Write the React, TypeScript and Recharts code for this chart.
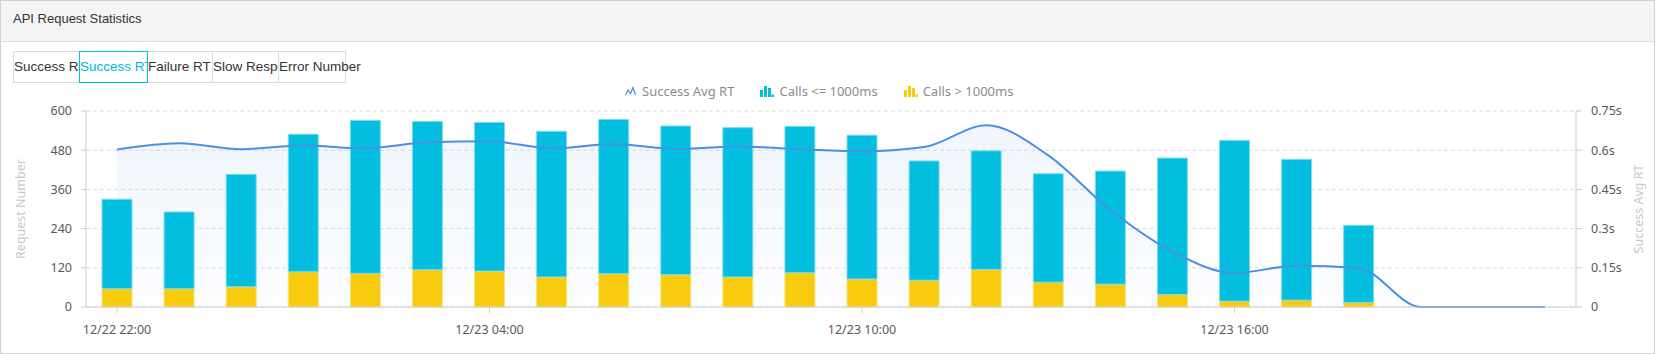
import { ComposedChart, Bar, Line, Area, XAxis, YAxis, CartesianGrid } from 'recharts';

// hourly buckets, 22:00 on 12/22 through 21:00 on 12/23
const times = [
    '12/22 22:00', '12/22 23:00', '12/23 00:00', '12/23 01:00', '12/23 02:00', '12/23 03:00',
    '12/23 04:00', '12/23 05:00', '12/23 06:00', '12/23 07:00', '12/23 08:00', '12/23 09:00',
    '12/23 10:00', '12/23 11:00', '12/23 12:00', '12/23 13:00', '12/23 14:00', '12/23 15:00',
    '12/23 16:00', '12/23 17:00', '12/23 18:00', '12/23 19:00', '12/23 20:00', '12/23 21:00',
];

// calls > 1000ms (yellow, bottom of stack)
const callsSlow = [56, 56, 62, 108, 103, 114, 110, 92, 102, 99, 92, 105, 86, 82, 115, 76, 70, 38, 18, 21, 14];
// calls <= 1000ms (cyan, top of stack)
const callsFast = [274, 235, 344, 421, 468, 454, 455, 446, 472, 455, 457, 448, 440, 365, 363, 332, 346, 418, 492, 431, 236];
// success avg RT in seconds
const avgRt = [
    0.603, 0.627, 0.604, 0.618, 0.607, 0.63, 0.634, 0.607, 0.624, 0.605, 0.614, 0.604,
    0.596, 0.612, 0.695, 0.58, 0.371, 0.212, 0.13, 0.158, 0.149, 0, 0, 0,
];

const leftTicks = [0, 120, 240, 360, 480, 600];
const rightTicks = [0, 0.15, 0.3, 0.45, 0.6, 0.75];

const tabs = ['Success Rate', 'Success RT', 'Failure RT', 'Slow Response', 'Error Number'];
const activeTab = 1;

const CYAN = '#04bedf';
const GOLD = '#f8cb0f';
const LINE = '#4a90e2';
const FONT = '"Noto Sans", "Open Sans", sans-serif';

const data = times.map((time, i) => ({
    time,
    slow: callsSlow[i] ?? null,
    fast: callsFast[i] ?? null,
    rt: avgRt[i],
}));

// tab box edges (left of each, plus right edge of last)
const tabEdges = [13, 79, 147, 212, 278, 345];

function BarIcon({ color }: { color: string }) {
    return (
        <svg width={14} height={12} style={{ display: 'block' }}>
            <rect x={0} y={5} width={3} height={7} fill={color} />
            <rect x={4} y={1} width={3} height={11} fill={color} />
            <rect x={8} y={3} width={3} height={9} fill={color} />
            <rect x={11.5} y={9.5} width={2.5} height={2.5} fill={color} />
        </svg>
    );
}

function LineIcon() {
    return (
        <svg width={11} height={10} style={{ display: 'block' }}>
            <polyline points="0.5,9 3,4 5.5,7.5 8,1.5 10.5,9" fill="none" stroke={LINE} strokeWidth={1.2} />
        </svg>
    );
}

export default function App() {
    const tickStyle = { fill: '#595959', fontSize: 12.5, fontFamily: FONT };

    return (
        <div style={{
            position: 'absolute',
            left: 0,
            top: 0,
            width: 1656,
            height: 354,
            background: '#fff',
            fontFamily: FONT,
        }}>
            {/* card frame */}
            <div style={{
                position: 'absolute', left: 0, top: 0, width: 1655, height: 354,
                border: '1px solid #cfcfcf', boxSizing: 'border-box',
            }} />
            {/* header */}
            <div style={{
                position: 'absolute', left: 1, top: 1, width: 1653, height: 40,
                background: '#f4f4f4', borderBottom: '1px solid #e2e2e2',
            }} />
            <div style={{
                position: 'absolute', left: 13, top: 9, lineHeight: '19px',
                fontSize: 13, color: '#333', fontFamily: '"Liberation Sans", Arial, sans-serif',
            }}>
                API Request Statistics
            </div>

            {/* tabs */}
            {tabs.map((t, i) => {
                const active = i === activeTab;
                const last = i === tabs.length - 1;
                return (
                    <div key={t} style={{
                        position: 'absolute',
                        left: tabEdges[i],
                        top: 51,
                        width: tabEdges[i + 1] - tabEdges[i] + 1,
                        height: 32,
                        boxSizing: 'border-box',
                        border: `1px solid ${active ? '#00c1de' : '#dcdcdc'}`,
                        background: '#fff',
                        zIndex: active ? 2 : 1,
                        overflow: last ? 'visible' : 'hidden',
                        whiteSpace: 'nowrap',
                        lineHeight: '30px',
                        paddingLeft: 0,
                        fontSize: 13.5,
                        fontFamily: '"Liberation Sans", Arial, sans-serif',
                        color: active ? '#00b7dd' : '#333',
                    }}>
                        {t}
                    </div>
                );
            })}

            {/* legend */}
            <div style={{
                position: 'absolute', left: 625, top: 82, height: 18,
                display: 'flex', alignItems: 'center', fontSize: 13, color: '#8c8c8c',
            }}>
                <LineIcon />
                <span style={{ marginLeft: 6, marginRight: 26 }}>Success Avg RT</span>
                <BarIcon color={CYAN} />
                <span style={{ marginLeft: 5, marginRight: 26 }}>Calls &lt;= 1000ms</span>
                <BarIcon color={GOLD} />
                <span style={{ marginLeft: 5 }}>Calls &gt; 1000ms</span>
            </div>

            <div style={{ position: 'absolute', left: 0, top: 95 }}>
                <ComposedChart
                    width={1655}
                    height={258}
                    data={data}
                    margin={{ top: 16, right: 9, bottom: 16, left: 16 }}
                >
                    <defs>
                        <linearGradient id="rtFill" x1="0" y1="0" x2="0" y2="1">
                            <stop offset="0%" stopColor={LINE} stopOpacity={0.14} />
                            <stop offset="100%" stopColor={LINE} stopOpacity={0.03} />
                        </linearGradient>
                    </defs>
                    <CartesianGrid
                        yAxisId="left"
                        vertical={false}
                        stroke="#dedede"
                        strokeDasharray="4 3"
                    />
                    <XAxis
                        dataKey="time"
                        interval={5}
                        height={30}
                        tick={tickStyle}
                        tickSize={6}
                        tickMargin={12}
                        axisLine={{ stroke: '#cccccc' }}
                        tickLine={{ stroke: '#cccccc' }}
                    />
                    <YAxis
                        yAxisId="left"
                        width={70}
                        domain={[0, 600]}
                        ticks={leftTicks}
                        tick={tickStyle}
                        tickSize={5}
                        tickMargin={9}
                        axisLine={{ stroke: '#cccccc' }}
                        tickLine={{ stroke: '#cccccc' }}
                        label={{
                            value: 'Request Number',
                            angle: -90,
                            position: 'center',
                            dx: -30,
                            fill: '#c8c8c8',
                            fontSize: 12.5,
                            fontFamily: FONT,
                        }}
                    />
                    <YAxis
                        yAxisId="right"
                        orientation="right"
                        width={70}
                        domain={[0, 0.75]}
                        ticks={rightTicks}
                        tickFormatter={(v: number) => (v === 0 ? '0' : `${v}s`)}
                        tick={tickStyle}
                        tickSize={6}
                        tickMargin={9}
                        axisLine={{ stroke: '#cccccc' }}
                        tickLine={{ stroke: '#cccccc' }}
                        label={{
                            value: 'Success Avg RT',
                            angle: -90,
                            position: 'center',
                            dx: 28,
                            fill: '#c8c8c8',
                            fontSize: 12.5,
                            fontFamily: FONT,
                        }}
                    />
                    <Area
                        yAxisId="right"
                        type="monotone"
                        dataKey="rt"
                        stroke="none"
                        fill="url(#rtFill)"
                        isAnimationActive={false}
                    />
                    <Bar
                        yAxisId="left"
                        dataKey="slow"
                        stackId="calls"
                        barSize={30}
                        fill={GOLD}
                        stroke="#fbe27a"
                        strokeWidth={1}
                        isAnimationActive={false}
                    />
                    <Bar
                        yAxisId="left"
                        dataKey="fast"
                        stackId="calls"
                        barSize={30}
                        fill={CYAN}
                        stroke="#7cdcef"
                        strokeWidth={1}
                        isAnimationActive={false}
                    />
                    <Line
                        yAxisId="right"
                        type="monotone"
                        dataKey="rt"
                        stroke={LINE}
                        strokeWidth={2}
                        dot={false}
                        activeDot={false}
                        isAnimationActive={false}
                    />
                </ComposedChart>
            </div>
        </div>
    );
}
